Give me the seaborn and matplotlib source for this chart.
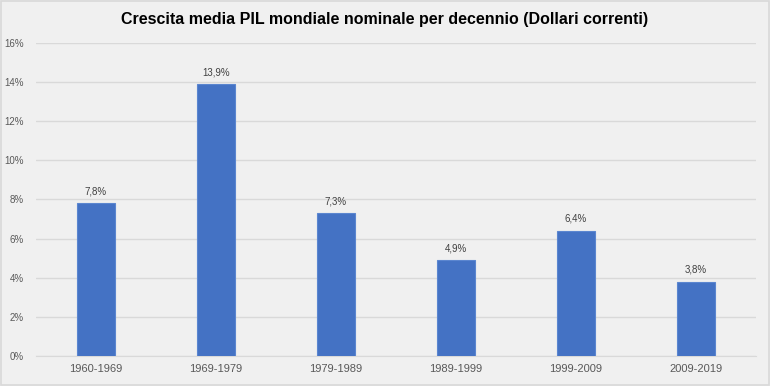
import matplotlib
matplotlib.use("Agg")
import matplotlib.pyplot as plt
import seaborn as sns
import pandas as pd
from matplotlib.ticker import FuncFormatter
from matplotlib.patches import Rectangle

decenni = ['1960-1969', '1969-1979', '1979-1989', '1989-1999', '1999-2009', '2009-2019']
crescita = [7.8, 13.9, 7.3, 4.9, 6.4, 3.8]
etichette = ['7,8%', '13,9%', '7,3%', '4,9%', '6,4%', '3,8%']
yticks = [0, 2, 4, 6, 8, 10, 12, 14, 16]

df = pd.DataFrame({'decennio': decenni, 'crescita': crescita})

sns.set_style('white')
plt.rcParams['font.family'] = ['Liberation Sans', 'DejaVu Sans']

bg = '#f0f0f0'
fig = plt.figure(figsize=(7.7, 3.86), dpi=100, facecolor=bg)
ax = fig.add_axes([0.0468, 0.0777, 0.935, 0.811])
ax.set_facecolor(bg)

sns.barplot(data=df, x='decennio', y='crescita', color='#4472C4', width=0.31,
            saturation=1, ax=ax, zorder=3, edgecolor='#5b86d0', linewidth=0.8)

for p, lab in zip(ax.patches, etichette):
    ax.text(p.get_x() + p.get_width() / 2, p.get_height() + 0.35, lab,
            ha='center', va='bottom', fontsize=7, color='#404040')

ax.set_ylim(0, 16)
ax.set_yticks(yticks)
ax.yaxis.set_major_formatter(FuncFormatter(lambda v, _: f'{int(v)}%'))
ax.grid(axis='y', color='#d9d9d9', linewidth=1, zorder=0)
ax.set_xlabel('')
ax.set_ylabel('')
ax.tick_params(axis='y', labelsize=7, colors='#595959', length=0, pad=9)
ax.tick_params(axis='x', labelsize=8, colors='#595959', length=0, pad=6)
for s in ['top', 'right', 'left']:
    ax.spines[s].set_visible(False)
ax.spines['bottom'].set_color('#d9d9d9')

fig.text(0.5, 0.95, 'Crescita media PIL mondiale nominale per decennio (Dollari correnti)',
         ha='center', va='center', fontsize=11.5, fontweight='bold', color='black')

# cornice dell'immagine
fig.patches.append(Rectangle((0.001, 0.002), 0.998, 0.996, transform=fig.transFigure,
                             fill=False, edgecolor='#d9d9d9', linewidth=1.2))

fig.savefig('out.png', dpi=100, facecolor=bg)
